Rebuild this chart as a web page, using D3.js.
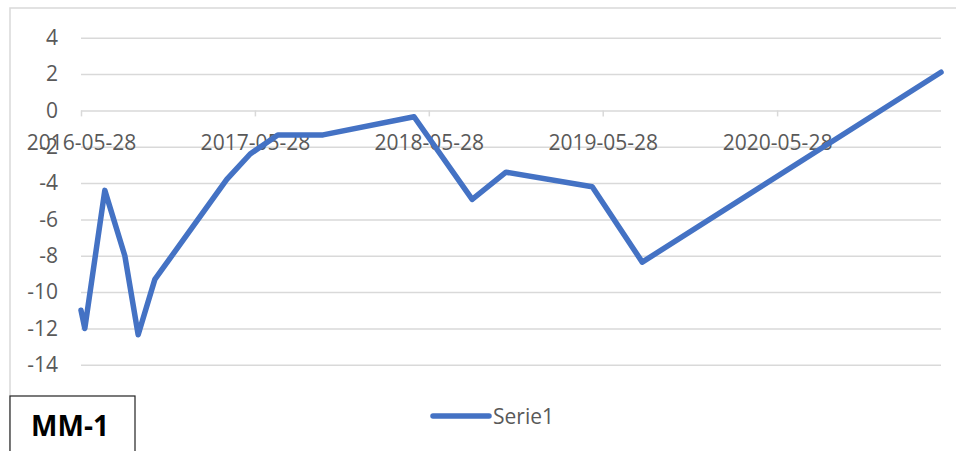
<!DOCTYPE html>
<html>
<head>
<meta charset="utf-8">
<script src="https://cdn.jsdelivr.net/npm/d3@7"></script>
<style>
  body { margin: 0; background: #fff; }
  svg { display: block; font-family: "Open Sans", sans-serif; }
</style>
</head>
<body>
<div id="chart"></div>
<script>
// series
const dates = ["2016-05-28", "2016-06-05", "2016-07-17", "2016-08-28", "2016-09-25",
    "2016-10-30", "2017-03-30", "2017-05-18", "2017-07-15", "2017-10-18",
    "2018-04-27", "2018-08-27", "2018-11-06", "2019-05-06", "2019-08-19", "2021-05-07"];
const values = [-11.0, -12.0, -4.4, -8.0, -12.35,
    -9.3, -3.8, -2.4, -1.35, -1.35,
    -0.35, -4.9, -3.4, -4.2, -8.35, 2.1];
const yTicks = [-14, -12, -10, -8, -6, -4, -2, 0, 2, 4];
const xTicks = ["2016-05-28", "2017-05-28", "2018-05-28", "2019-05-28", "2020-05-28"];
const seriesName = "Serie1";
const boxLabel = "MM-1";

const W = 956, H = 451;
const parse = d3.timeParse("%Y-%m-%d");
const fmt = d3.timeFormat("%Y-%m-%d");
const data = dates.map((d, i) => ({ date: parse(d), value: values[i] }));

const svg = d3.select("#chart").append("svg")
    .attr("width", W).attr("height", H);

// chart area border
svg.append("rect")
    .attr("x", 10).attr("y", 8)
    .attr("width", 960).attr("height", 460)
    .attr("fill", "none").attr("stroke", "#d9d9d9").attr("stroke-width", 1.5);

const plotLeft = 81, plotRight = 941, plotTop = 37.7, plotBottom = 364.8;

const x = d3.scaleTime()
    .domain(d3.extent(data, d => d.date))
    .range([plotLeft, plotRight]);

const y = d3.scaleLinear()
    .domain([-14, 4])
    .range([plotBottom, plotTop]);

// y axis + gridlines (plain hyphen minus, like Excel)
const yAxis = svg.append("g")
    .attr("transform", `translate(${plotLeft},0)`)
    .call(d3.axisLeft(y).tickValues(yTicks).tickFormat(d => String(d))
        .tickSizeInner(-(plotRight - plotLeft)).tickSizeOuter(0).tickPadding(23));
yAxis.select(".domain").remove();
yAxis.selectAll("line").attr("stroke", "#d9d9d9").attr("stroke-width", 1.5);
yAxis.selectAll("text")
    .attr("fill", "#595959").attr("font-size", 21).attr("font-family", "Open Sans, sans-serif");

// x axis crossing at zero
const xAxis = svg.append("g")
    .attr("transform", `translate(0,${y(0)})`)
    .call(d3.axisBottom(x).tickValues(xTicks.map(parse)).tickFormat(fmt).tickSizeInner(6).tickSizeOuter(0).tickPadding(19));
xAxis.select(".domain").remove();
xAxis.selectAll("line").attr("stroke", "#d9d9d9").attr("stroke-width", 1.5);
xAxis.selectAll("text")
    .attr("fill", "#595959").attr("font-size", 21).attr("font-family", "Open Sans, sans-serif");

// the series
const line = d3.line()
    .x(d => x(d.date))
    .y(d => y(d.value));

svg.append("path")
    .datum(data)
    .attr("d", line)
    .attr("fill", "none")
    .attr("stroke", "#4472c4")
    .attr("stroke-width", 5.5)
    .attr("stroke-linejoin", "round")
    .attr("stroke-linecap", "round");

// legend
const legend = svg.append("g").attr("transform", "translate(433,416)");
legend.append("line")
    .attr("x1", 0).attr("x2", 56)
    .attr("stroke", "#4472c4").attr("stroke-width", 5.5).attr("stroke-linecap", "round");
legend.append("text")
    .attr("x", 60).attr("y", 7.5)
    .attr("fill", "#595959").attr("font-size", 21)
    .text(seriesName);

// MM-1 label box
svg.append("rect")
    .attr("x", 10).attr("y", 396)
    .attr("width", 125).attr("height", 80)
    .attr("fill", "#fff").attr("stroke", "#222").attr("stroke-width", 1.2);
svg.append("text")
    .attr("x", 70).attr("y", 436)
    .attr("text-anchor", "middle")
    .attr("font-size", 28).attr("font-weight", "bold").attr("fill", "#000")
    .text(boxLabel);
</script>
</body>
</html>
